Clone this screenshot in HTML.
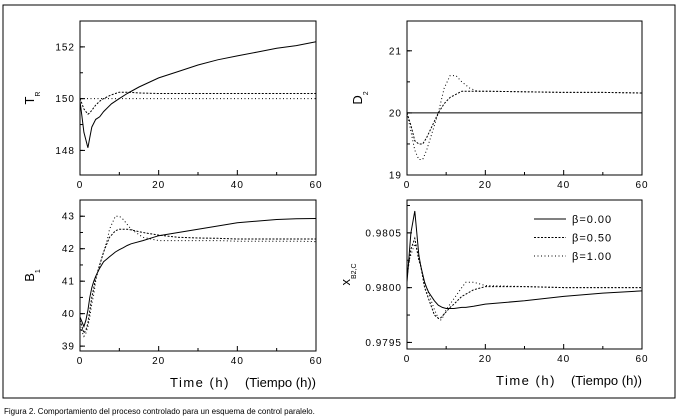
<!DOCTYPE html>
<html><head><meta charset="utf-8"><style>
body{margin:0;background:#fff;width:679px;height:419px;overflow:hidden;font-family:"Liberation Sans",sans-serif}
svg{display:block}
text{font-family:"Liberation Sans",sans-serif;fill:#000}
</style></head><body>
<svg id="c" width="679" height="419">
<rect x="3" y="5" width="672" height="393" fill="none" stroke="#000" stroke-width="1"/>
<text x="4" y="414" font-size="8">Figura 2. Comportamiento del proceso controlado para un esquema de control paralelo.</text>
</svg>
<script>
const xTicks=[0,20,40,60];
const betaLabels=["β=0.00","β=0.50","β=1.00"];
// Panel T_R
const tTR=[0,0.5,1,2,2.5,3,4,5,6,8,10,12,15,20,25,30,35,40,45,50,55,60];
const trB0=[149.9,149.3,148.7,148.1,148.5,148.9,149.2,149.3,149.5,149.8,150.0,150.2,150.45,150.8,151.05,151.3,151.5,151.65,151.8,151.95,152.05,152.2];
const trB05=[150.0,149.8,149.6,149.4,149.45,149.55,149.75,149.9,150.0,150.15,150.25,150.25,150.22,150.2,150.2,150.2,150.2,150.2,150.2,150.2,150.2,150.2];
const trB1=[150,150,150,150,150,150,150,150,150,150,150,150,150,150,150,150,150,150,150,150,150,150];
const trTicks=[148,150,152];
// Panel D2
const tD=[0,1,2,3,4,5,6.5,8,9.5,11,12.5,14,16,18,20,30,40,50,60];
const dB0=[20,20,20,20,20,20,20,20,20,20,20,20,20,20,20,20,20,20,20];
const dB05=[20,19.8,19.55,19.5,19.5,19.6,19.8,20.0,20.15,20.25,20.3,20.35,20.35,20.35,20.35,20.34,20.33,20.33,20.32];
const dB1=[20,19.7,19.4,19.25,19.25,19.4,19.7,20.0,20.4,20.6,20.6,20.5,20.4,20.35,20.35,20.34,20.33,20.33,20.32];
const dTicks=[19,20,21];
// Panel B1
const tB=[0,1,1.5,2,2.5,3,3.5,4,5,6,7,7.5,9,10,11,12,13,16,20,25,30,35,40,45,50,55,60];
const bB0=[39.9,39.6,39.8,40.1,40.5,40.8,41.0,41.15,41.4,41.6,41.7,41.75,41.9,41.97,42.03,42.1,42.15,42.25,42.4,42.5,42.6,42.7,42.8,42.85,42.9,42.92,42.93];
const bB05=[39.8,39.4,39.5,39.7,40.1,40.5,40.8,41.1,41.5,41.9,42.2,42.35,42.55,42.6,42.6,42.6,42.58,42.5,42.42,42.35,42.33,42.32,42.3,42.3,42.3,42.3,42.3];
const bB1=[39.6,39.3,39.4,39.6,39.9,40.3,40.6,41.0,41.5,41.9,42.3,42.6,43.0,43.0,42.9,42.75,42.6,42.35,42.25,42.25,42.25,42.25,42.23,42.23,42.23,42.23,42.22];
const bTicks=[39,40,41,42,43];
// Panel xB2,C
const tX=[0,1,2,3,3.5,4.5,5,5.5,7,8,8.5,9,10,11,12,14,15,17,20,30,40,50,60];
const xB0=[0.98005,0.9805,0.9807,0.9803,0.9802,0.98005,0.98,0.97996,0.97988,0.97984,0.97983,0.97982,0.97981,0.97981,0.97981,0.97982,0.97982,0.97983,0.97985,0.97988,0.97992,0.97995,0.97997];
const xB05=[0.9801,0.98035,0.98045,0.98025,0.9802,0.98,0.97995,0.9799,0.97975,0.97972,0.97972,0.97974,0.97978,0.97982,0.97985,0.97992,0.97994,0.97998,0.98001,0.98001,0.98,0.98,0.98];
const xB1=[0.9802,0.9803,0.9804,0.9803,0.9802,0.98003,0.98,0.97995,0.9798,0.97972,0.9797,0.97972,0.9798,0.97985,0.9799,0.98,0.98005,0.98005,0.98002,0.98001,0.98,0.98,0.98];
const xTicksY=[0.9795,0.98,0.9805];

const NS="http://www.w3.org/2000/svg";
const svg=document.getElementById('c');
function mk(tag,attrs,parent){const e=document.createElementNS(NS,tag);for(const k in attrs)e.setAttribute(k,attrs[k]);(parent||svg).appendChild(e);return e;}
const dashes=[null,"2,1.5","1,2.5"];

function panel(name,box,ymin,ymax,yt,ylabFmt,ytitle,ysub,t,series,xtitle,ytx){
  const g=mk('g',{});
  
  
  const xs=v=>box.x0+(v-0)/60*(box.x1-box.x0);
  const ys=v=>box.y1-(v-ymin)/(ymax-ymin)*(box.y1-box.y0);
  const fr=mk('rect',{x:box.x0,y:box.y0,width:box.x1-box.x0,height:box.y1-box.y0,fill:'none',stroke:'#000','stroke-width':1},g);
  
  
  for(let v=0;v<=60;v+=10){
    const L=v%20===0?5:3;
    mk('line',{x1:xs(v),x2:xs(v),y1:box.y1,y2:box.y1-L,stroke:'#000'},g);
  }
  xTicks.forEach(v=>{
    const tx=mk('text',{x:xs(v),y:box.y1+13,'font-size':10,'text-anchor':'middle','letter-spacing':'1'},g);
    tx.textContent=v;
    
    
  });
  yt.forEach(v=>{
    mk('line',{x1:box.x0,x2:box.x0+5,y1:ys(v),y2:ys(v),stroke:'#000'},g);
    const tx=mk('text',{x:box.x0-5,y:ys(v)+3.5,'font-size':10,'text-anchor':'end','letter-spacing':'1'},g);
    tx.textContent=ylabFmt(v);
    
    
  });
  if(yt.length>1){const st=(yt[1]-yt[0])/2;for(let v=yt[0]-st;v<=ymax;v+=st){if(v>=ymin)mk('line',{x1:box.x0,x2:box.x0+3,y1:ys(v),y2:ys(v),stroke:'#000'},g);}}
  const yti=mk('text',{transform:`translate(${ytx},${(box.y0+box.y1)/2}) rotate(-90)`,'font-size':13,'text-anchor':'middle'},g);
  yti.innerHTML=ytitle+'<tspan font-size="7" dy="6">'+ysub+'</tspan>';
  
  
  series.forEach((s,i)=>{
    const d=s.map((v,j)=>(j?'L':'M')+xs(t[j]).toFixed(1)+','+ys(v).toFixed(1)).join('');
    const p=mk('path',{d:d,fill:'none',stroke:'#000','stroke-width':1},g);
    if(dashes[i])p.setAttribute('stroke-dasharray',dashes[i]);
    
    
  });
  if(xtitle){
    const xt=mk('text',{x:box.x1-146,y:box.y1+36,'font-size':13,'letter-spacing':'1.5'},g);
    xt.textContent='Time (h)';
    
    
    const xt2=mk('text',{x:box.x1,y:box.y1+36,'font-size':13,'text-anchor':'end'},g);
    xt2.textContent='(Tiempo (h))';
    
    
  }
}
panel('tr',{x0:80,x1:316,y0:21,y1:175},147.05,153,trTicks,v=>v,'T','R',tTR,[trB0,trB05,trB1],false,34);
panel('d2',{x0:407,x1:642,y0:21,y1:175},19,21.48,dTicks,v=>v,'D','2',tD,[dB0,dB05,dB1],false,362);
panel('b1',{x0:80,x1:316,y0:200,y1:351},38.85,43.5,bTicks,v=>v,'B','1',tB,[bB0,bB05,bB1],true,34);
panel('xb',{x0:407,x1:642,y0:200,y1:349},0.97944,0.9808,xTicksY,v=>v.toFixed(4),'x','B2,C',tX,[xB0,xB05,xB1],true,350);
const lg=mk('g',{});


betaLabels.forEach((lab,i)=>{
  const y=219+i*18.5;
  const l=mk('line',{x1:534,x2:566,y1:y,y2:y,stroke:'#000'},lg);
  if(dashes[i])l.setAttribute('stroke-dasharray',dashes[i]);
  const tx=mk('text',{x:572,y:y+4,'font-size':11,'letter-spacing':'1'},lg);
  tx.textContent=lab;
  
  
});
</script>
</body></html>
